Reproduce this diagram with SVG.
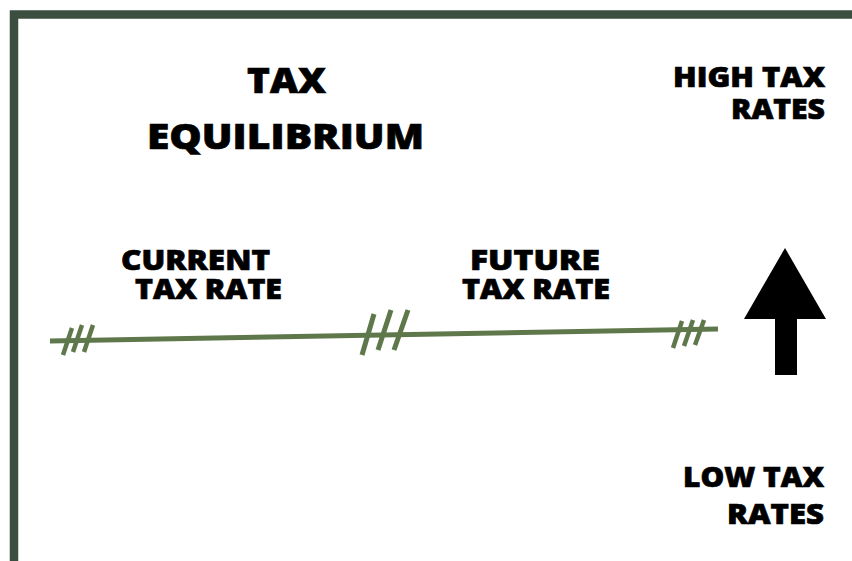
<svg xmlns="http://www.w3.org/2000/svg" width="852" height="561" viewBox="0 0 852 561">
<style>
.t{font-family:"Open Sans","Liberation Sans",Arial,sans-serif;font-weight:800;fill:#000;stroke:#000;stroke-width:0.7}
.big{font-size:36px}
.lbl{font-size:28px}
.ln{stroke:#5f784b;stroke-width:5;fill:none}
.h{stroke:#5f784b;stroke-width:4.5;fill:none}
</style>
<rect width="852" height="561" fill="#fff"/>
<g id="frame">
<path d="M14 561 V14.5 H852" fill="none" stroke="#3c4e3f" stroke-width="8.5"/>
</g>
<g id="title">
<text class="t big" x="247" y="93" textLength="79" lengthAdjust="spacingAndGlyphs">TAX</text>
<text class="t big" x="147" y="149" textLength="277" lengthAdjust="spacingAndGlyphs">EQUILIBRIUM</text>
</g>
<g id="current">
<text class="t lbl" x="121" y="270" textLength="149" lengthAdjust="spacingAndGlyphs">CURRENT</text>
<text class="t lbl" x="135" y="299" textLength="147" lengthAdjust="spacingAndGlyphs">TAX RATE</text>
</g>
<g id="future">
<text class="t lbl" x="470" y="270" textLength="130" lengthAdjust="spacingAndGlyphs">FUTURE</text>
<text class="t lbl" x="462" y="299" textLength="148" lengthAdjust="spacingAndGlyphs">TAX RATE</text>
</g>
<g id="high">
<text class="t lbl" x="673" y="87" textLength="152" lengthAdjust="spacingAndGlyphs">HIGH TAX</text>
<text class="t lbl" x="731" y="119" textLength="94" lengthAdjust="spacingAndGlyphs">RATES</text>
</g>
<g id="low">
<text class="t lbl" x="683" y="487" textLength="141" lengthAdjust="spacingAndGlyphs">LOW TAX</text>
<text class="t lbl" x="727" y="524" textLength="97" lengthAdjust="spacingAndGlyphs">RATES</text>
</g>
<g id="connectors">
<line class="ln" x1="50" y1="341" x2="718" y2="329"/>
<g id="hash-left">
<line class="h" x1="63" y1="355" x2="72" y2="328"/>
<line class="h" x1="73" y1="352" x2="82" y2="325"/>
<line class="h" x1="84" y1="352" x2="93" y2="325"/>
</g>
<g id="hash-mid">
<line class="h" x1="362" y1="355" x2="374" y2="314" style="stroke-width:5"/>
<line class="h" x1="378" y1="350" x2="391" y2="310" style="stroke-width:5"/>
<line class="h" x1="394" y1="350" x2="408" y2="310" style="stroke-width:5"/>
</g>
<g id="hash-right">
<line class="h" x1="673" y1="348" x2="682" y2="321"/>
<line class="h" x1="684" y1="346" x2="693" y2="320"/>
<line class="h" x1="695" y1="345" x2="704" y2="320"/>
</g>
</g>
<g id="arrow">
<polygon points="785,248 826,319 744,319" fill="#000"/>
<rect x="775" y="318" width="22" height="57" fill="#000"/>
</g>
</svg>
